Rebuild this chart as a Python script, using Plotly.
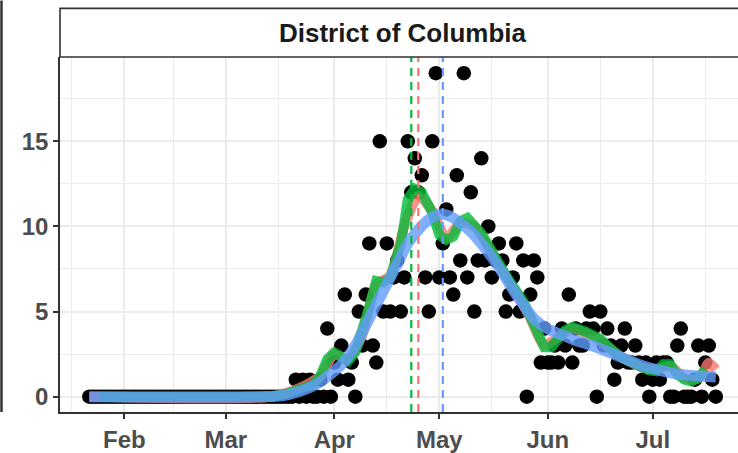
import pandas as pd
import plotly.graph_objects as go

# ---------------- data ----------------
start_date = "2020-01-22"
end_date = "2020-07-19"
dates = pd.date_range(start_date, end_date, freq="D")

deaths = (
    [0] * 53 +  # Jan 22 - Mar 14
    [0, 0, 0, 0, 0, 0, 1, 0, 1, 0, 1, 0, 0, 1, 0, 4, 0,            # Mar 15 - Mar 31
     2, 1, 3, 6, 1, 2, 0, 5, 3, 6, 9, 3, 2, 15, 5, 9, 5, 7, 8, 5,   # Apr 1 - Apr 20
     7, 15, 12, 14, 12, 13, 7, 5, 15, 19,                           # Apr 21 - Apr 30
     7, 9, 11, 7, 6, 13, 8, 19, 7, 12, 5, 8, 14, 8, 10, 7,          # May 1 - May 16
     8, 9, 8, 5, 6, 7, 9, 5, 8, 0, 6, 8, 7, 2, 4,                   # May 17 - May 31
     2, 2, 3, 2, 4, 3, 6, 2, 4, 3, 3, 4, 5, 4, 0,                   # Jun 1 - Jun 15
     5, 3, 4, 3, 1, 2, 3, 4, 2, 2, 3, 2, 1, 2, 0,                   # Jun 16 - Jun 30
     1, 2, 1, 2, 2, 0, 0, 3, 4, 0, 0, 0, 1, 3, 0, 2, 3, 1, 0]       # Jul 1 - Jul 19
)

green_dates = ["2020-01-25", "2020-03-14", "2020-03-18", "2020-03-22", "2020-03-26", "2020-03-28",
               "2020-03-30", "2020-04-01", "2020-04-03", "2020-04-05", "2020-04-07", "2020-04-09",
               "2020-04-11", "2020-04-13", "2020-04-15", "2020-04-17", "2020-04-19", "2020-04-20",
               "2020-04-21", "2020-04-22", "2020-04-24", "2020-04-26", "2020-04-27", "2020-04-29",
               "2020-05-01", "2020-05-03", "2020-05-05", "2020-05-07", "2020-05-09", "2020-05-11",
               "2020-05-13", "2020-05-15", "2020-05-17", "2020-05-19", "2020-05-21", "2020-05-23",
               "2020-05-25", "2020-05-27", "2020-05-29", "2020-05-31", "2020-06-02", "2020-06-04",
               "2020-06-06", "2020-06-08", "2020-06-10", "2020-06-12", "2020-06-14", "2020-06-16",
               "2020-06-18", "2020-06-20", "2020-06-22", "2020-06-24", "2020-06-26", "2020-06-28",
               "2020-06-30", "2020-07-02", "2020-07-04", "2020-07-06", "2020-07-08", "2020-07-10",
               "2020-07-12", "2020-07-14", "2020-07-16"]
green_vals = [0, 0, 0.15, 0.5, 0.7, 1.2,
              2.2, 2.6, 2.3, 2.1, 2.6, 3.8,
              5.3, 6.8, 6.7, 7.0, 8.3, 9.0,
              10.2, 11.6, 12.2, 12.0, 11.6, 10.8,
              9.5, 9.2, 9.4, 10.3, 10.5, 10.1,
              9.6, 8.9, 8.3, 7.5, 6.8, 6.2,
              5.6, 4.7, 3.6, 2.9, 2.9, 3.5,
              3.9, 4.1, 4.0, 3.8, 3.6, 3.4,
              3.0, 2.6, 2.3, 2.1, 1.9, 1.6,
              1.55, 1.5, 1.9, 1.9, 1.3, 1.0,
              0.9, 1.1, 1.6]

red_dates = ["2020-01-22", "2020-03-14", "2020-03-22", "2020-03-28", "2020-04-01", "2020-04-05",
             "2020-04-09", "2020-04-13", "2020-04-17", "2020-04-21", "2020-04-25", "2020-04-29",
             "2020-05-03", "2020-05-07", "2020-05-11", "2020-05-15", "2020-05-19", "2020-05-23",
             "2020-05-27", "2020-05-31", "2020-06-04", "2020-06-08", "2020-06-12", "2020-06-16",
             "2020-06-20", "2020-06-24", "2020-06-28", "2020-07-02", "2020-07-06", "2020-07-10",
             "2020-07-13", "2020-07-15", "2020-07-17", "2020-07-19"]
red_vals = [0, 0.0, 0.5, 1.2, 2.5, 2.2,
            3.6, 6.6, 7.1, 10.0, 11.8, 10.9,
            9.3, 10.2, 10.0, 8.8, 7.4, 6.1,
            4.6, 3.0, 3.5, 4.0, 3.7, 3.3,
            2.6, 2.1, 1.7, 1.6, 1.8, 1.1,
            1.0, 1.3, 2.0, 1.6]

blue_dates = ["2020-01-22", "2020-03-10", "2020-03-17", "2020-03-22", "2020-03-27", "2020-04-01",
              "2020-04-04", "2020-04-07", "2020-04-10", "2020-04-13", "2020-04-16", "2020-04-19",
              "2020-04-22", "2020-04-25", "2020-04-28", "2020-05-01", "2020-05-04", "2020-05-07",
              "2020-05-10", "2020-05-13", "2020-05-16", "2020-05-19", "2020-05-22", "2020-05-25",
              "2020-05-28", "2020-05-31", "2020-06-03", "2020-06-06", "2020-06-09", "2020-06-12",
              "2020-06-15", "2020-06-18", "2020-06-21", "2020-06-24", "2020-06-27", "2020-06-30",
              "2020-07-03", "2020-07-06", "2020-07-09", "2020-07-12", "2020-07-15", "2020-07-19"]
blue_vals = [0, 0, 0.05, 0.3, 0.75, 1.5,
             2.1, 3.0, 4.2, 5.4, 6.6, 7.8,
             9.0, 9.8, 10.4, 10.7, 10.6, 10.2,
             9.7, 9.0, 8.2, 7.3, 6.3, 5.4,
             4.6, 4.1, 3.8, 3.55, 3.3, 3.1,
             2.9, 2.65, 2.4, 2.15, 1.9, 1.7,
             1.55, 1.4, 1.3, 1.25, 1.2, 1.15]

peak_dates = {"green": "2020-04-23", "red": "2020-04-25", "blue": "2020-05-02"}

panel_title = "District of Columbia"
x_tick_vals = ["2020-02-01", "2020-03-01", "2020-04-01", "2020-05-01", "2020-06-01", "2020-07-01"]
x_tick_text = ["Feb", "Mar", "Apr", "May", "Jun", "Jul"]
x_minor_vals = ["2020-01-17", "2020-02-15", "2020-03-16", "2020-04-16", "2020-05-16",
                "2020-06-16", "2020-07-16"]
y_tick_vals = [0, 5, 10, 15]
y_minor_vals = [2.5, 7.5, 12.5, 17.5]

# ---------------- styling ----------------
W, H = 738, 453
ML, MR, MT, MB = 60, 0, 57, 38
plot_w = W - ML - MR
plot_h = H - MT - MB

feb1 = pd.Timestamp("2020-02-01")
px_per_day = 3.5
x_left = feb1 + pd.Timedelta(days=(60 - 124.3) / px_per_day)
x_right = feb1 + pd.Timedelta(days=(738 - 124.3) / px_per_day)

COL_GREEN = "#00BA38"
COL_RED = "#F8766D"
COL_BLUE = "#619CFF"
GRID = "#EBEBEB"
DARK = "#333333"
FONT = "Liberation Sans, Arial, sans-serif"

fig = go.Figure()

fig.add_trace(go.Scatter(x=dates, y=deaths, mode="markers",
                         marker=dict(color="black", size=14.5, line=dict(width=0)),
                         showlegend=False, hoverinfo="skip"))
fig.add_trace(go.Scatter(x=red_dates, y=red_vals, mode="lines",
                         line=dict(color="rgba(248,118,109,0.8)", width=10, shape="spline", smoothing=0.6),
                         showlegend=False, hoverinfo="skip"))
fig.add_trace(go.Scatter(x=green_dates, y=green_vals, mode="lines",
                         line=dict(color="rgba(0,186,56,0.8)", width=10, shape="linear"),
                         showlegend=False, hoverinfo="skip"))
fig.add_trace(go.Scatter(x=blue_dates, y=blue_vals, mode="lines",
                         line=dict(color="rgba(97,156,255,0.8)", width=11, shape="spline", smoothing=1.0),
                         showlegend=False, hoverinfo="skip"))

# dashed peak lines
for key, col in (("green", COL_GREEN), ("red", COL_RED), ("blue", COL_BLUE)):
    fig.add_shape(type="line", xref="x", yref="paper", x0=peak_dates[key], x1=peak_dates[key],
                  y0=0, y1=1, line=dict(color=col, width=2.2, dash="8px,6px"), layer="above")

# strip
strip_h = 49
fig.add_shape(type="rect", xref="paper", yref="paper", x0=0, x1=1 + 8 / plot_w,
              y0=1, y1=1 + strip_h / plot_h, line=dict(color=DARK, width=1.6),
              fillcolor="white", layer="above")
fig.add_annotation(xref="paper", yref="paper", x=(402.5 - ML) / plot_w, y=1 + (strip_h / 2) / plot_h,
                   text="<b>" + panel_title + "</b>", showarrow=False,
                   font=dict(family=FONT, size=26, color="#1A1A1A"), xanchor="center", yanchor="middle")

# stray border line on the far left
fig.add_shape(type="line", xref="paper", yref="paper", x0=(1.5 - ML) / plot_w, x1=(1.5 - ML) / plot_w,
              y0=0, y1=1 + MT / plot_h, line=dict(color=DARK, width=2.5), layer="above")

TICKFONT = dict(family=FONT, size=24, color="#4D4D4D", weight="bold")

fig.update_layout(
    width=W, height=H,
    margin=dict(l=ML, r=MR, t=MT, b=MB, pad=0),
    paper_bgcolor="white", plot_bgcolor="white",
    font=dict(family=FONT),
    xaxis=dict(
        type="date", range=[x_left, x_right],
        tickmode="array", tickvals=x_tick_vals, ticktext=x_tick_text,
        showgrid=True, gridcolor=GRID, gridwidth=1.6,
        minor=dict(tickmode="array", tickvals=x_minor_vals, showgrid=True, gridcolor=GRID, gridwidth=1.2,
                   ticks=""),
        ticks="outside", ticklen=5, tickwidth=1.6, tickcolor=DARK,
        tickfont=TICKFONT,
        showline=True, linecolor=DARK, linewidth=1.6, zeroline=False,
    ),
    yaxis=dict(
        range=[-0.9, 19.95],
        tickmode="array", tickvals=y_tick_vals, ticktext=[str(v) for v in y_tick_vals],
        showgrid=True, gridcolor=GRID, gridwidth=1.6,
        minor=dict(tickmode="array", tickvals=y_minor_vals, showgrid=True, gridcolor=GRID, gridwidth=1.2,
                   ticks=""),
        ticks="outside", ticklen=5, tickwidth=1.6, tickcolor=DARK,
        tickfont=TICKFONT,
        showline=True, linecolor=DARK, linewidth=1.6, zeroline=False,
    ),
)

fig.write_html("out.html", config={"displayModeBar": False},
               post_script="document.body.style.margin='0px';")
